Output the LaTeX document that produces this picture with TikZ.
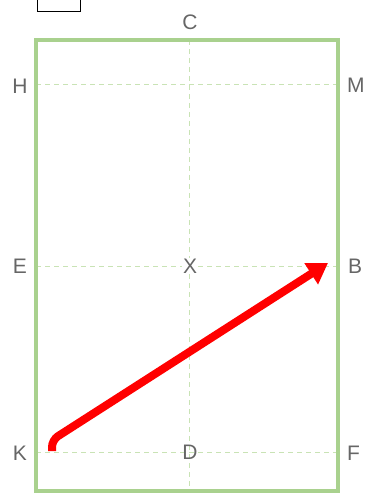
\documentclass[tikz,border=0pt]{standalone}
\usepackage{fontspec}
\setmainfont{Liberation Sans}
\usetikzlibrary{arrows.meta}
\definecolor{arena}{HTML}{A9D18E}
\definecolor{gridln}{HTML}{C9E3B5}
\definecolor{lettr}{HTML}{666666}
\definecolor{pathred}{HTML}{FF0000}

\begin{document}
\begin{tikzpicture}[x=1pt,y=-1pt,
  lt/.style={text=lettr,font=\fontsize{21}{21}\selectfont,inner sep=0pt},
  gl/.style={draw=gridln,line width=1pt,dash pattern=on 5pt off 4pt},
  ar/.style={-{Triangle[length=20pt,width=24pt]},draw=pathred,line width=8pt,rounded corners=7pt}]
\useasboundingbox (0,0) rectangle (367,494);

% small box above the arena
\draw[black,line width=1pt] (37,-4) rectangle (80,12);

% grid lines
\draw[gl] (36,85) -- (338,85);
\draw[gl] (36,266) -- (338,266);
\draw[gl] (36,452) -- (338,452);
\draw[gl] (189,40) -- (189,491);

% arena
\draw[arena,line width=4pt] (36,40) rectangle (338,491);

% letters
\node[lt] (C) at (190,22) {C};
\node[lt] (H) at (20,86) {H};
\node[lt,anchor=west] (M) at (347,85) {M};
\node[lt] (E) at (20,266) {E};
\node[lt,fill=white,inner sep=1pt] (X) at (190,266) {X};
\node[lt,anchor=west] (B) at (348,266) {B};
\node[lt] (K) at (20,453) {K};
\node[lt] (D) at (190,452) {D};
\node[lt,anchor=west] (F) at (347,453) {F};

% route K -> B
\coordinate (start) at (52,451);
\coordinate (turn) at (52,440);
\coordinate (stop) at (328,263);
\draw[ar] (start) -- (turn) -- (stop);
\end{tikzpicture}
\end{document}
